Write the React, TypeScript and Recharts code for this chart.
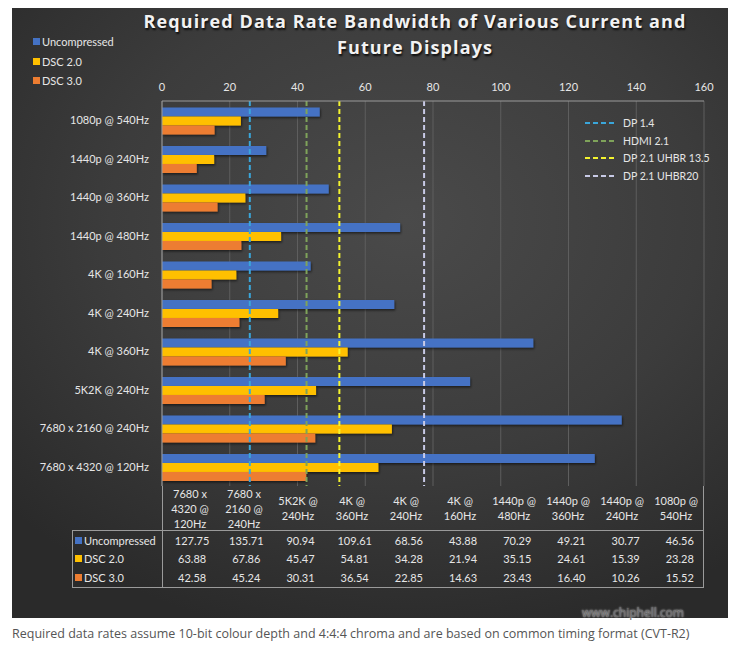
import {
  Bar,
  BarChart,
  CartesianGrid,
  ReferenceLine,
  XAxis,
  YAxis,
} from "recharts";

// source table order (chart is drawn reversed, top = last item)
const categories = [
  "7680 x 4320 @ 120Hz",
  "7680 x 2160 @ 240Hz",
  "5K2K @ 240Hz",
  "4K @ 360Hz",
  "4K @ 240Hz",
  "4K @ 160Hz",
  "1440p @ 480Hz",
  "1440p @ 360Hz",
  "1440p @ 240Hz",
  "1080p @ 540Hz",
];
const uncompressed = [127.75, 135.71, 90.94, 109.61, 68.56, 43.88, 70.29, 49.21, 30.77, 46.56];
const dsc20 = [63.88, 67.86, 45.47, 54.81, 34.28, 21.94, 35.15, 24.61, 15.39, 23.28];
const dsc30 = [42.58, 45.24, 30.31, 36.54, 22.85, 14.63, 23.43, 16.4, 10.26, 15.52];

const seriesNames = ["Uncompressed", "DSC 2.0", "DSC 3.0"];
const seriesColors = ["#4472C4", "#FFC000", "#ED7D31"];

const linkNames = ["DP 1.4", "HDMI 2.1", "DP 2.1 UHBR 13.5", "DP 2.1 UHBR20"];
const linkRates = [25.92, 42.67, 52.36, 77.37];
const linkColors = ["#3AA6DA", "#7FA35A", "#F4F42E", "#C8CAE6"];

const xTicks = [0, 20, 40, 60, 80, 100, 120, 140, 160];

const data = categories.map((name, i) => ({
  name,
  u: uncompressed[i],
  d2: dsc20[i],
  d3: dsc30[i],
}));
const seriesValues = [uncompressed, dsc20, dsc30];

const FONT = "Lato, 'Open Sans', sans-serif";
const PANEL_W = 716;
const PANEL_H = 612;
const PLOT_L = 150;
const PLOT_R = 692;
const PLOT_B = 480;

export default function App() {
  const colW = (PLOT_R - PLOT_L) / categories.length;
  return (
    <div style={{ position: "relative", width: 740, height: 655, margin: -8, background: "#fff", overflow: "hidden" }}>
      <div
        style={{
          position: "absolute",
          left: 12,
          top: 6,
          width: PANEL_W,
          height: PANEL_H,
          background:
            "radial-gradient(ellipse 75% 70% at 55% 35%, #4a4a4a 0%, #3c3c3c 55%, #2a2a2a 100%)",
          fontFamily: FONT,
          color: "#e6e6e6",
        }}
      >
        <div
          style={{
            position: "absolute",
            left: 116,
            width: 574,
            top: 2,
            textAlign: "center",
            fontFamily: "'Open Sans', sans-serif",
            fontWeight: 700,
            fontSize: 18,
            letterSpacing: 1.1,
            lineHeight: "26px",
            color: "#f2f2f2",
            textShadow: "1px 2px 2px rgba(0,0,0,0.8)",
          }}
        >
          Required Data Rate Bandwidth of Various Current and
          <br />
          Future Displays
        </div>

        {seriesNames.map((n, i) => (
          <div
            key={n}
            style={{ position: "absolute", left: 21, top: 29 + i * 19.5, fontSize: 11, display: "flex", alignItems: "center" }}
          >
            <span style={{ width: 7, height: 7, background: seriesColors[i], marginRight: 2, display: "inline-block" }} />
            {n}
          </div>
        ))}

        <BarChart
          width={PANEL_W}
          height={PANEL_H}
          data={data}
          layout="vertical"
          margin={{ top: 65, right: PANEL_W - PLOT_R, bottom: PANEL_H - PLOT_B, left: 0 }}
          barCategoryGap={6.5}
          barGap={0}
        >
          <defs>
            <filter id="sh" x="-5%" y="-20%" width="110%" height="160%">
              <feDropShadow dx="1" dy="1.5" stdDeviation="1" floodColor="#000" floodOpacity="0.55" />
            </filter>
          </defs>
          <CartesianGrid horizontal={false} stroke="#5e5e5e" verticalValues={xTicks} />
          <XAxis
            type="number"
            orientation="top"
            domain={[0, 160]}
            ticks={xTicks}
            height={30}
            tickLine={false}
            axisLine={{ stroke: "#9a9a9a" }}
            tick={{ fill: "#e6e6e6", fontSize: 11, fontFamily: FONT }}
            tickMargin={4}
            interval={0}
          />
          <YAxis
            type="category"
            dataKey="name"
            reversed
            width={PLOT_L}
            tickLine={false}
            axisLine={{ stroke: "#9a9a9a" }}
            tick={{ fill: "#e6e6e6", fontSize: 11, fontFamily: FONT }}
            tickMargin={7}
            interval={0}
          />
          <Bar dataKey="u" fill={seriesColors[0]} filter="url(#sh)" isAnimationActive={false} />
          <Bar dataKey="d2" fill={seriesColors[1]} filter="url(#sh)" isAnimationActive={false} />
          <Bar dataKey="d3" fill={seriesColors[2]} filter="url(#sh)" isAnimationActive={false} />
          {linkRates.map((r, i) => (
            <ReferenceLine key={linkNames[i]} x={r} stroke={linkColors[i]} strokeWidth={2} strokeDasharray="5 3" />
          ))}
        </BarChart>

        {/* reference line legend */}
        {linkNames.map((n, i) => (
          <div
            key={n}
            style={{ position: "absolute", left: 573, top: 111 + i * 17.5, fontSize: 10.5, display: "flex", alignItems: "center", height: 12 }}
          >
            <svg width={32} height={4} style={{ marginRight: 6 }}>
              <line x1={0} y1={2} x2={32} y2={2} stroke={linkColors[i]} strokeWidth={2} strokeDasharray="5 3" />
            </svg>
            {n}
          </div>
        ))}

        {/* data table */}
        <div style={{ position: "absolute", left: PLOT_L, top: PLOT_B, width: PLOT_R - PLOT_L, height: 44, borderLeft: "1px solid #9a9a9a", borderRight: "1px solid #9a9a9a", display: "flex", boxSizing: "border-box" }}>
          {categories.map((c) => (
            <div
              key={c}
              style={{ width: colW, padding: "0 4px", boxSizing: "border-box", fontSize: 11, lineHeight: "15px", textAlign: "center", display: "flex", alignItems: "center", justifyContent: "center" }}
            >
              {c}
            </div>
          ))}
        </div>
        <div style={{ position: "absolute", left: 60, top: PLOT_B + 44, width: PLOT_R - 60, height: 58, border: "1px solid #9a9a9a", boxSizing: "border-box" }} />
        <div style={{ position: "absolute", left: PLOT_L, top: PLOT_B + 44, width: 1, height: 58, background: "#9a9a9a" }} />
        {seriesNames.map((n, r) => (
          <div key={n} style={{ position: "absolute", left: 60, top: PLOT_B + 45 + r * 18.8, height: 18, display: "flex", alignItems: "center", fontSize: 11 }}>
            <div style={{ width: PLOT_L - 60, display: "flex", alignItems: "center", paddingLeft: 3 }}>
              <span style={{ width: 7, height: 7, background: seriesColors[r], marginRight: 2, display: "inline-block" }} />
              {n}
            </div>
            {seriesValues[r].map((v, i) => (
              <div key={categories[i]} style={{ width: colW, textAlign: "center" }}>
                {v.toFixed(2)}
              </div>
            ))}
          </div>
        ))}
      </div>

      <div style={{ position: "absolute", left: 582, top: 606, lineHeight: "14px", fontFamily: "'Open Sans', sans-serif", fontSize: 12, color: "#6a6a6a", textShadow: "0 0 2px #fff" }}>
        www.chiphell.com
      </div>
      <div
        style={{
          position: "absolute",
          left: 12,
          top: 626,
          width: 716,
          lineHeight: "16px",
          whiteSpace: "nowrap",
          overflow: "hidden",
          fontFamily: "'Open Sans', sans-serif",
          fontSize: 12.5,
          color: "#555",
        }}
      >
        Required data rates assume 10-bit colour depth and 4:4:4 chroma and are based on common timing format (CVT-R2)
      </div>
    </div>
  );
}
